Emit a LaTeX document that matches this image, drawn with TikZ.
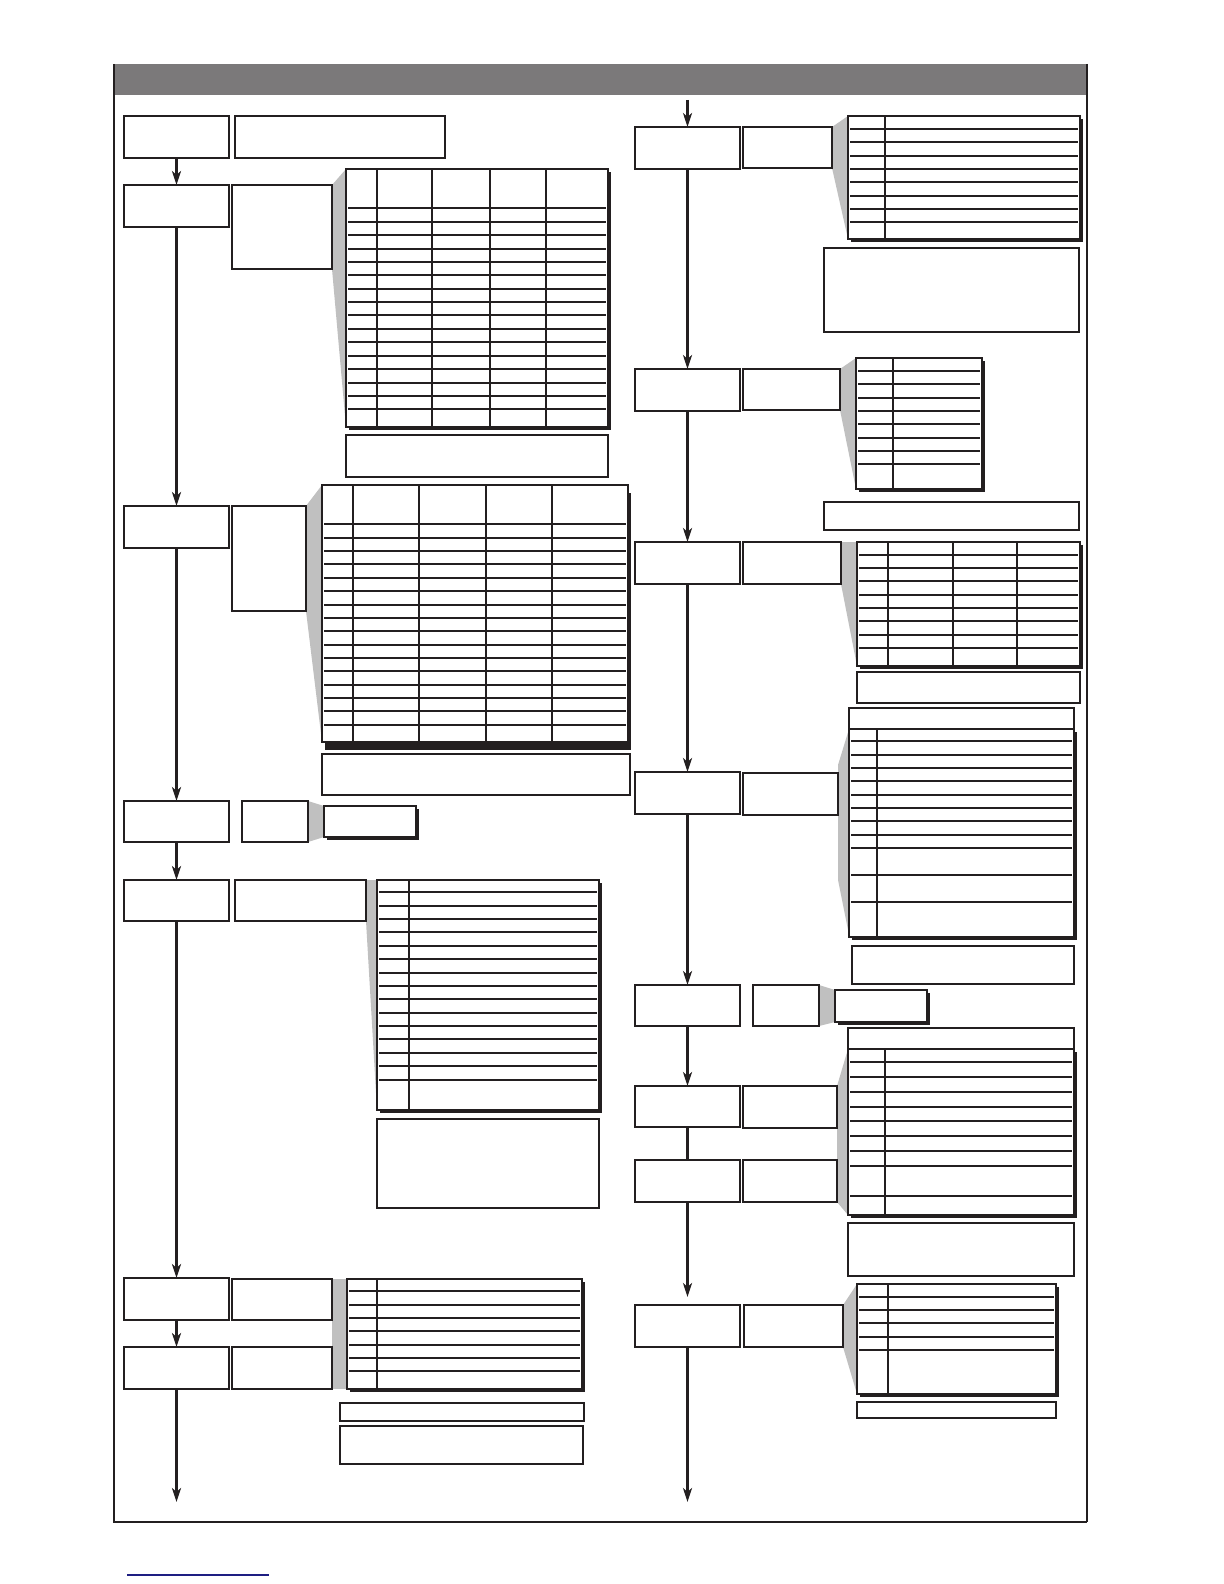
\documentclass[tikz,border=0pt]{standalone}
\usetikzlibrary{arrows.meta,fit}
\definecolor{hdr}{RGB}{123,121,122}
\definecolor{wedge}{RGB}{192,192,192}
\definecolor{ink}{RGB}{35,31,32}
\definecolor{lnk}{RGB}{30,30,130}
\newcommand\bx[5]{\node[box,fit={(#2,#3)(#4,#5)}] (#1) {};}
\newcommand\tb[5]{\fill[shd] (#2+3,#3+3) rectangle (#4+3,#5+3);
  \node[tbox,fit={(#2,#3)(#4,#5)}] (#1) {};}
\begin{document}
\begin{tikzpicture}[x=0.5pt,y=-0.5pt,
 box/.style={draw=ink,line width=0.65pt,fill=white,inner sep=0pt,outer sep=0pt},
 tbox/.style={draw=ink,line width=0.65pt,fill=white,inner sep=0pt,outer sep=0pt},
 arr/.style={draw=ink,line width=1.3pt,-{Stealth[length=7pt,width=4.5pt,inset=2pt]}},
 flow/.style={draw=ink,line width=1.3pt},
 grid/.style={draw=ink,line width=0.55pt},
 shd/.style={fill=ink},
 wdg/.style={fill=wedge}]
\useasboundingbox (0,0) rectangle (1224,1584);
% frame
\fill[hdr] (114,64) rectangle (1087,95);
\draw[ink,line width=1pt] (114,64) -- (114,1522) -- (1087,1522);
\draw[ink,line width=0.7pt] (1087,64) -- (1087,1522);
% ---------- wedges ----------
\fill[wdg] (332,185) -- (346,169) -- (346,427) -- (332,269) -- cycle;
\fill[wdg] (306,506) -- (322,485) -- (322,742) -- (306,611) -- cycle;
\fill[wdg] (308,801) -- (324,806) -- (324,837) -- (308,842) -- cycle;
\fill[wdg] (366,880) -- (377,880) -- (377,1110) -- (366,921) -- cycle;
\fill[wdg] (332,1279) rectangle (347,1389);
\fill[wdg] (832,127) -- (848,116) -- (848,239) -- (832,168) -- cycle;
\fill[wdg] (840,369) -- (856,358) -- (856,489) -- (840,410) -- cycle;
\fill[wdg] (841,542) -- (857,542) -- (857,666) -- (841,584) -- cycle;
\fill[wdg] (838,765) -- (849,729) -- (849,935) -- (838,880) -- cycle;
\fill[wdg] (819,985) -- (835,990) -- (835,1022) -- (819,1026) -- cycle;
\fill[wdg] (837,1086) -- (848,1049) -- (848,1215) -- (837,1202) -- cycle;
\fill[wdg] (843,1305) -- (857,1284) -- (857,1394) -- (843,1347) -- cycle;
% ---------- left column ----------
\bx{A1}{124}{116}{229}{158}
\bx{A1s}{235}{116}{445}{158}
\bx{A2}{124}{185}{229}{227}
\bx{A2s}{232}{185}{332}{269}
\tb{T1}{346}{169}{608}{427}
\foreach \c in {377,432,490,546} \draw[grid] (\c,169) -- (\c,427);
\foreach \r in {208,222,235,249,262,275,289,302,315,329,342,356,369,383,396,409} \draw[grid] (348,\r) -- (606,\r);
\bx{N1}{346}{435}{608}{477}
\bx{A3}{124}{506}{229}{548}
\bx{A3s}{232}{506}{306}{611}
\fill[shd] (628,493) rectangle (631,750);
\fill[shd] (325,742) rectangle (631,750);
\node[tbox,fit={(322,485)(628,742)}] (T2) {};
\foreach \c in {353,419,486,552} \draw[grid] (\c,485) -- (\c,742);
\foreach \r in {524,538,551,564,578,591,605,618,631,645,658,671,685,698,711,725} \draw[grid] (324,\r) -- (626,\r);
\bx{N2}{322}{754}{630}{795}
\bx{A4}{124}{801}{229}{842}
\bx{A4s}{242}{801}{308}{842}
\tb{S1}{324}{806}{416}{837}
\bx{A5}{124}{880}{229}{921}
\bx{A5s}{235}{880}{366}{921}
\tb{T3}{377}{880}{599}{1110}
\draw[grid] (409,880) -- (409,1110);
\foreach \r in {892,906,919,932,946,959,973,986,999,1013,1026,1039,1053,1066,1080} \draw[grid] (379,\r) -- (597,\r);
\bx{N3}{377}{1119}{599}{1208}
\bx{A6}{124}{1278}{229}{1320}
\bx{A6s}{232}{1279}{332}{1320}
\bx{A7}{124}{1347}{229}{1389}
\bx{A7s}{232}{1347}{332}{1389}
\tb{T4}{347}{1279}{582}{1389}
\draw[grid] (377,1279) -- (377,1389);
\foreach \r in {1291,1305,1318,1331,1345,1358,1371} \draw[grid] (349,\r) -- (580,\r);
\bx{N4a}{340}{1403}{584}{1421}
\bx{N4b}{340}{1426}{583}{1464}
\coordinate (Aend) at (176.5,1502);
\draw[arr] (A1) -- (A2);
\draw[arr] (A2) -- (A3);
\draw[arr] (A3) -- (A4);
\draw[arr] (A4) -- (A5);
\draw[arr] (A5) -- (A6);
\draw[arr] (A6) -- (A7);
\draw[arr] (A7) -- (Aend);
% ---------- right column ----------
\coordinate (Bstart) at (687.5,100);
\bx{B1}{635}{127}{740}{169}
\bx{B1s}{743}{127}{832}{168}
\tb{T5}{848}{116}{1080}{239}
\draw[grid] (885,116) -- (885,239);
\foreach \r in {129,142,156,169,182,196,209,222} \draw[grid] (850,\r) -- (1078,\r);
\bx{N5}{824}{248}{1079}{332}
\bx{B2}{635}{369}{740}{411}
\bx{B2s}{743}{369}{840}{410}
\tb{T6}{856}{358}{982}{489}
\draw[grid] (893,358) -- (893,489);
\foreach \r in {371,384,398,411,424,438,451,464} \draw[grid] (858,\r) -- (980,\r);
\bx{N6}{824}{502}{1079}{530}
\bx{B3}{635}{542}{740}{584}
\bx{B3s}{743}{542}{841}{584}
\tb{T7}{857}{542}{1080}{666}
\foreach \c in {888,953,1017} \draw[grid] (\c,542) -- (\c,666);
\foreach \r in {555,568,581,595,608,621,635,648} \draw[grid] (859,\r) -- (1078,\r);
\bx{N7}{857}{672}{1080}{703}
\bx{B4}{635}{772}{740}{814}
\bx{B4s}{743}{773}{838}{815}
\bx{T8h}{849}{708}{1074}{729}
\tb{T8}{849}{729}{1074}{937}
\draw[grid] (877,729) -- (877,937);
\foreach \r in {741,755,768,781,795,808,821,835,848,875,902} \draw[grid] (851,\r) -- (1072,\r);
\bx{N8}{852}{946}{1074}{984}
\bx{B5}{635}{985}{740}{1026}
\bx{B5s}{753}{985}{819}{1026}
\tb{S2}{835}{990}{927}{1022}
\bx{B6}{635}{1086}{740}{1127}
\bx{B6s}{743}{1086}{837}{1128}
\bx{B7}{635}{1160}{740}{1202}
\bx{B7s}{743}{1160}{837}{1202}
\bx{T9h}{848}{1028}{1074}{1049}
\tb{T9}{848}{1049}{1074}{1215}
\draw[grid] (885,1049) -- (885,1215);
\foreach \r in {1062,1077,1092,1107,1121,1136,1151,1166,1196} \draw[grid] (850,\r) -- (1072,\r);
\bx{N9}{848}{1223}{1074}{1276}
\bx{B8}{635}{1305}{740}{1347}
\bx{B8s}{744}{1305}{843}{1347}
\tb{T10}{857}{1284}{1056}{1394}
\draw[grid] (888,1284) -- (888,1394);
\foreach \r in {1297,1310,1323,1337,1350} \draw[grid] (859,\r) -- (1054,\r);
\bx{N10}{857}{1402}{1056}{1418}
\coordinate (Bend) at (687.5,1502);
\draw[arr] (Bstart) -- (B1);
\draw[arr] (B1) -- (B2);
\draw[arr] (B2) -- (B3);
\draw[arr] (B3) -- (B4);
\draw[arr] (B4) -- (B5);
\draw[arr] (B5) -- (B6);
\draw[flow] (B6) -- (B7);
\draw[arr,shorten >=4pt] (B7) -- (B8);
\draw[arr] (B8) -- (Bend);
% link underline
\draw[lnk,line width=0.6pt] (127,1575) -- (269,1575);
\end{tikzpicture}
\end{document}
